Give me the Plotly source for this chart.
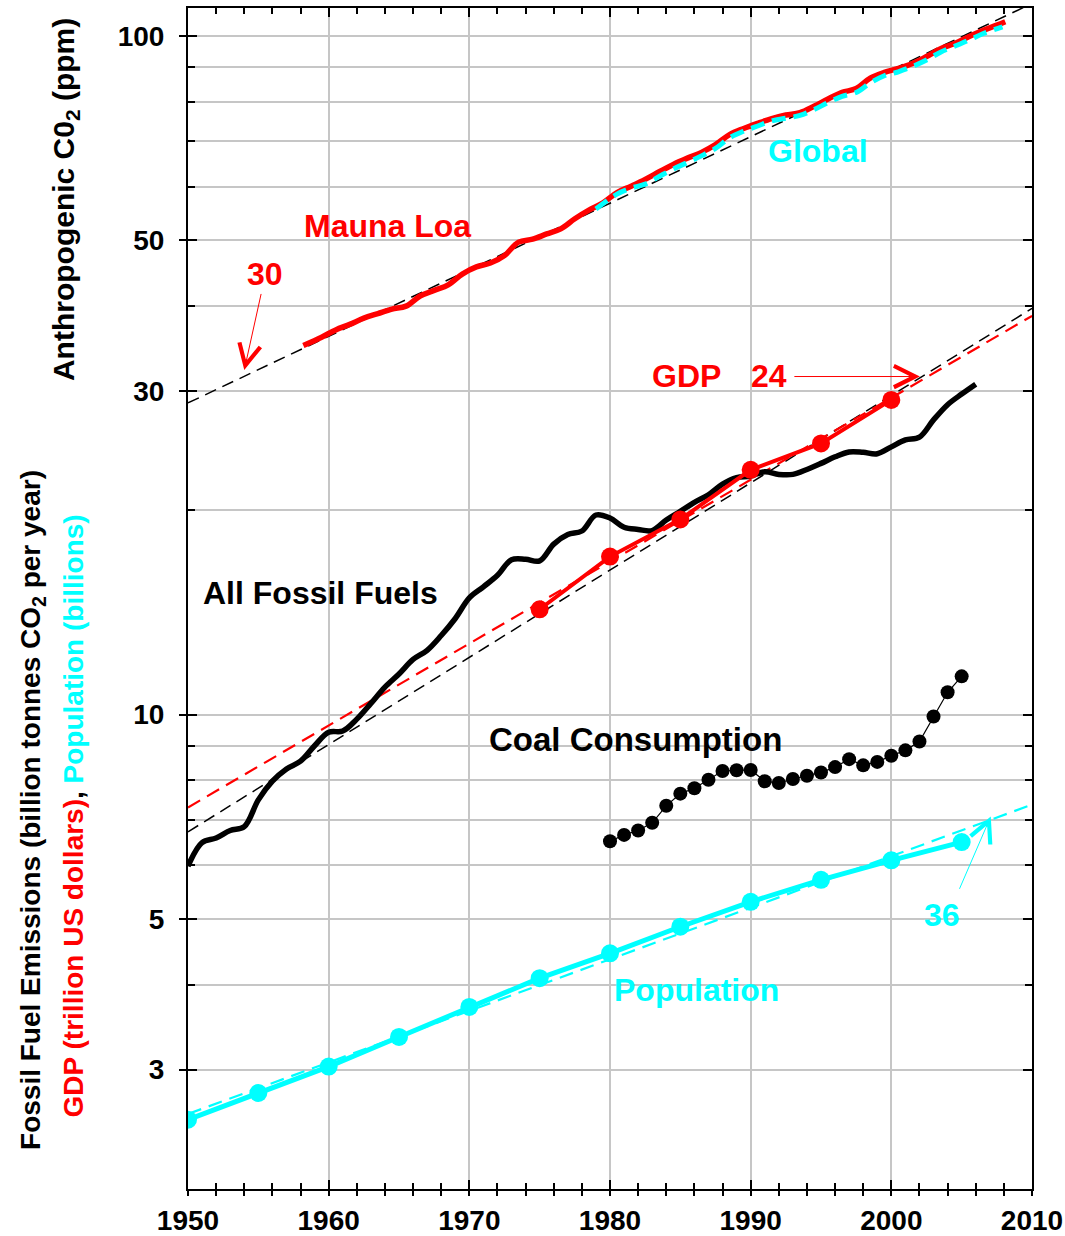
import numpy as np
import plotly.graph_objects as go

# ---------------- data ----------------
# Anthropogenic CO2 at Mauna Loa (ppm above 280)
ml_years = [1958.2] + [y + 0.5 for y in range(1959, 2008)] + [2008.1]
ml_co2 = [35.0, 36.0, 36.9, 37.6, 38.4, 39.0, 39.6, 40.0, 41.4, 42.2, 43.0, 44.6,
          45.7, 46.3, 47.5, 49.7, 50.2, 51.1, 52.0, 53.8, 55.4, 56.8, 58.8, 60.1,
          61.5, 63.1, 64.7, 66.1, 67.4, 69.2, 71.6, 73.1, 74.4, 75.6, 76.5, 77.1,
          78.8, 80.8, 82.6, 83.7, 86.7, 88.4, 89.6, 91.1, 93.3, 95.8, 97.5, 99.8,
          101.9, 103.8, 105.0]

# Global anthropogenic CO2 (ppm above 280)
gl_years = [1979.0] + [y + 0.5 for y in range(1980, 2007)] + [2007.9]
gl_co2 = [55.6, 58.5, 59.7, 60.5, 62.1, 63.7, 65.1, 66.6, 68.3, 70.8, 72.4, 73.7,
          75.0, 75.7, 76.4, 77.9, 79.8, 81.5, 82.6, 85.3, 87.4, 88.6, 90.2, 92.2,
          94.7, 96.6, 98.6, 100.8, 103.2]

# Exponential fit to CO2 (doubling time 30 yr)
co2_fit_years = [1950, 2010]
co2_fit = [28.8, 111.7]

# All fossil fuel emissions (billion tonnes CO2 per year)
ff_years = list(range(1950, 2007))
ff_emis = [5.98, 6.48, 6.58, 6.75, 6.84, 7.49, 7.98, 8.32, 8.54, 9.00,
           9.42, 9.46, 9.85, 10.39, 10.98, 11.48, 12.06, 12.44, 13.08, 13.86,
           14.86, 15.43, 16.05, 16.92, 16.95, 16.85, 17.84, 18.43, 18.65, 19.69,
           19.49, 18.89, 18.75, 18.68, 19.36, 19.94, 20.56, 21.09, 21.87, 22.36,
           22.47, 22.80, 22.60, 22.60, 22.98, 23.46, 23.99, 24.39, 24.36, 24.24,
           24.81, 25.40, 25.65, 27.19, 28.63, 29.68, 30.69]
ff_fit_years = [1950, 2010]
ff_fit = [6.72, 39.7]

# GDP (trillion US dollars)
gdp_years = [1975, 1980, 1985, 1990, 1995, 2000]
gdp = [14.3, 17.1, 19.4, 22.95, 25.1, 29.1]
gdp_fit_years = [1950, 2010]
gdp_fit = [7.3, 38.7]

# Coal consumption
coal_years = list(range(1980, 2006))
coal = [6.51, 6.65, 6.75, 6.93, 7.34, 7.65, 7.79, 8.02, 8.26, 8.28, 8.29, 7.98,
        7.93, 8.04, 8.13, 8.22, 8.37, 8.60, 8.42, 8.52, 8.70, 8.86, 9.13, 9.94,
        10.79, 11.39]

# Population (billions)
pop_years = [1950, 1955, 1960, 1965, 1970, 1975, 1980, 1985, 1990, 1995, 2000, 2005]
pop = [2.53, 2.77, 3.03, 3.35, 3.71, 4.09, 4.45, 4.87, 5.30, 5.71, 6.10, 6.49]
pop_fit_years = [1950, 2010]
pop_fit = [2.58, 7.37]

# axes
x_major = [1950, 1960, 1970, 1980, 1990, 2000, 2010]
x_minor = list(range(1950, 2011, 2))
y_major = [3, 5, 10, 30, 50, 100]
y_grid = [3, 4, 5, 6, 7, 8, 9, 10, 20, 30, 40, 50, 60, 70, 80, 90, 100]
y_min, y_max = 2.0, 110.0

RED = '#ff0000'
CYAN = '#00ffff'
FONT = 'Liberation Sans, Arial, sans-serif'

fig = go.Figure()

def line(x, y, color, width, dash='solid', shape='linear'):
    fig.add_trace(go.Scatter(x=x, y=y, mode='lines', hoverinfo='skip',
                             line=dict(color=color, width=width, dash=dash,
                                       shape=shape, smoothing=1.0)))

# fits
line(ff_fit_years, ff_fit, 'black', 1.5, '12px,7px')
line(gdp_fit_years, gdp_fit, RED, 2.2, '14px,8px')
line(pop_fit_years, pop_fit, CYAN, 2.2, '14px,8px')
line(co2_fit_years, co2_fit, 'black', 1.5, '12px,7px')

# CO2 curves
line(ml_years, ml_co2, RED, 5.5, shape='spline')
line(gl_years, gl_co2, CYAN, 5, '14px,8px', shape='spline')

# fossil fuels
line(ff_years, ff_emis, 'black', 5.5, shape='spline')

# GDP
fig.add_trace(go.Scatter(x=gdp_years, y=gdp, mode='lines+markers', hoverinfo='skip',
                         line=dict(color=RED, width=4),
                         marker=dict(color=RED, size=18)))
# coal
fig.add_trace(go.Scatter(x=coal_years, y=coal, mode='lines+markers', hoverinfo='skip',
                         line=dict(color='black', width=1.2),
                         marker=dict(color='black', size=14)))
# population
fig.add_trace(go.Scatter(x=pop_years, y=pop, mode='lines+markers', hoverinfo='skip',
                         line=dict(color=CYAN, width=5),
                         marker=dict(color=CYAN, size=18)))

# invisible traces to carry the overlay axes (outer tick marks)
fig.add_trace(go.Scatter(x=[1950], y=[10], xaxis='x2', yaxis='y', mode='markers',
                         marker=dict(opacity=0), hoverinfo='skip'))
fig.add_trace(go.Scatter(x=[1950], y=[10], xaxis='x', yaxis='y2', mode='markers',
                         marker=dict(opacity=0), hoverinfo='skip'))

L = np.log10
annotations = []

def label(text, x, y, color, size=32):
    annotations.append(dict(text=text, x=x, y=L(y), xref='x', yref='y',
                            showarrow=False, xanchor='center', yanchor='middle',
                            font=dict(family=FONT, size=size, color=color, weight='bold')))

def arrow(x0, y0, x1, y1, color):
    annotations.append(dict(text='', x=x1, y=L(y1), ax=x0, ay=L(y0),
                            xref='x', yref='y', axref='x', ayref='y',
                            showarrow=True, arrowhead=5, arrowsize=4.2,
                            arrowwidth=1, arrowcolor=color, standoff=0, startstandoff=0))

label('Mauna Loa', 1964.2, 52.5, RED)
label('30', 1955.5, 44.6, RED)
arrow(1955.22, 41.9, 1954.0, 32.2, RED)
label('Global', 1994.8, 67.7, CYAN)
label('GDP', 1985.47, 31.57, RED)
label('24', 1991.3, 31.57, RED)
arrow(1993.0, 31.5, 2002.03, 31.5, RED)
label('All Fossil Fuels', 1959.45, 15.11, 'black')
label('Coal Consumption', 1981.84, 9.19, 'black', size=33)
label('Population', 1986.18, 3.93, CYAN)
label('36', 2003.59, 5.06, CYAN)
arrow(2004.8, 5.51, 2007.07, 7.08, CYAN)

# axis titles (rotated)
annotations.append(dict(text='Anthropogenic C0<sub>2</sub> (ppm)', xref='paper', yref='paper',
                        x=-0.1457, y=0.8374, textangle=-90, showarrow=False,
                        xanchor='center', yanchor='middle',
                        font=dict(family=FONT, size=30, color='black', weight='bold')))
annotations.append(dict(text='Fossil Fuel Emissions (billion tonnes CO<sub>2</sub> per year)',
                        xref='paper', yref='paper', x=-0.1836, y=0.321, textangle=-90,
                        showarrow=False, xanchor='center', yanchor='middle',
                        font=dict(family=FONT, size=28, color='black', weight='bold')))
annotations.append(dict(text="<span style='color:#ff0000'>GDP (trillion US dollars)</span>, "
                             "<span style='color:#00ffff'>Population (billions)</span>",
                        xref='paper', yref='paper', x=-0.1363, y=0.3163, textangle=-90,
                        showarrow=False, xanchor='center', yanchor='middle',
                        font=dict(family=FONT, size=28, color='black', weight='bold')))

GRID = '#c6c6c6'
fig.update_layout(
    width=1065, height=1236,
    margin=dict(l=188, r=33, t=8, b=47, autoexpand=False),
    paper_bgcolor='white', plot_bgcolor='white', showlegend=False,
    font=dict(family=FONT, color='black'),
    annotations=annotations,
    xaxis=dict(range=[1950, 2010], tickmode='array', tickvals=x_major,
               ticktext=[str(v) for v in x_major], automargin=False,
               ticks='inside', ticklen=9, tickwidth=1.5, tickcolor='black',
               showline=True, linecolor='black', linewidth=2, mirror='ticks',
               showgrid=True, gridcolor=GRID, gridwidth=2, zeroline=False,
               tickfont=dict(family=FONT, size=28, color='black', weight='bold'),
               ticklabelstandoff=5,
               minor=dict(tickmode='array', tickvals=x_minor, ticks='inside', ticklen=6,
                          tickwidth=1.5, tickcolor='black', showgrid=False)),
    xaxis2=dict(range=[1950, 2010], overlaying='x', anchor='y', side='bottom',
                automargin=False,
                tickmode='array', tickvals=x_minor, ticks='outside', ticklen=6,
                tickwidth=1.5, tickcolor='black', showticklabels=False,
                showgrid=False, showline=False, zeroline=False),
    yaxis=dict(type='log', range=[L(y_min), L(y_max)], tickmode='array', tickvals=y_major,
               ticktext=[str(v) for v in y_major], automargin=False,
               ticks='inside', ticklen=9, tickwidth=1.5, tickcolor='black',
               showline=True, linecolor='black', linewidth=2, mirror='ticks',
               showgrid=True, gridcolor=GRID, gridwidth=2, zeroline=False,
               tickfont=dict(family=FONT, size=28, color='black', weight='bold'),
               ticklabelstandoff=16,
               minor=dict(tickmode='array', tickvals=y_grid, ticks='inside', ticklen=7,
                          tickwidth=1.5, tickcolor='black', showgrid=True,
                          gridcolor=GRID, gridwidth=2)),
    yaxis2=dict(type='log', range=[L(y_min), L(y_max)], overlaying='y', anchor='x', side='left',
                automargin=False,
                tickmode='array', tickvals=y_major, ticks='outside', ticklen=8,
                tickwidth=1.5, tickcolor='black', showticklabels=False,
                showgrid=False, showline=False, zeroline=False),
)

# page without the default body margin so the figure fills the window exactly
fig.write_html('out.html', config={'displayModeBar': False},
               post_script="document.body.style.margin='0';document.body.style.overflow='hidden';")
